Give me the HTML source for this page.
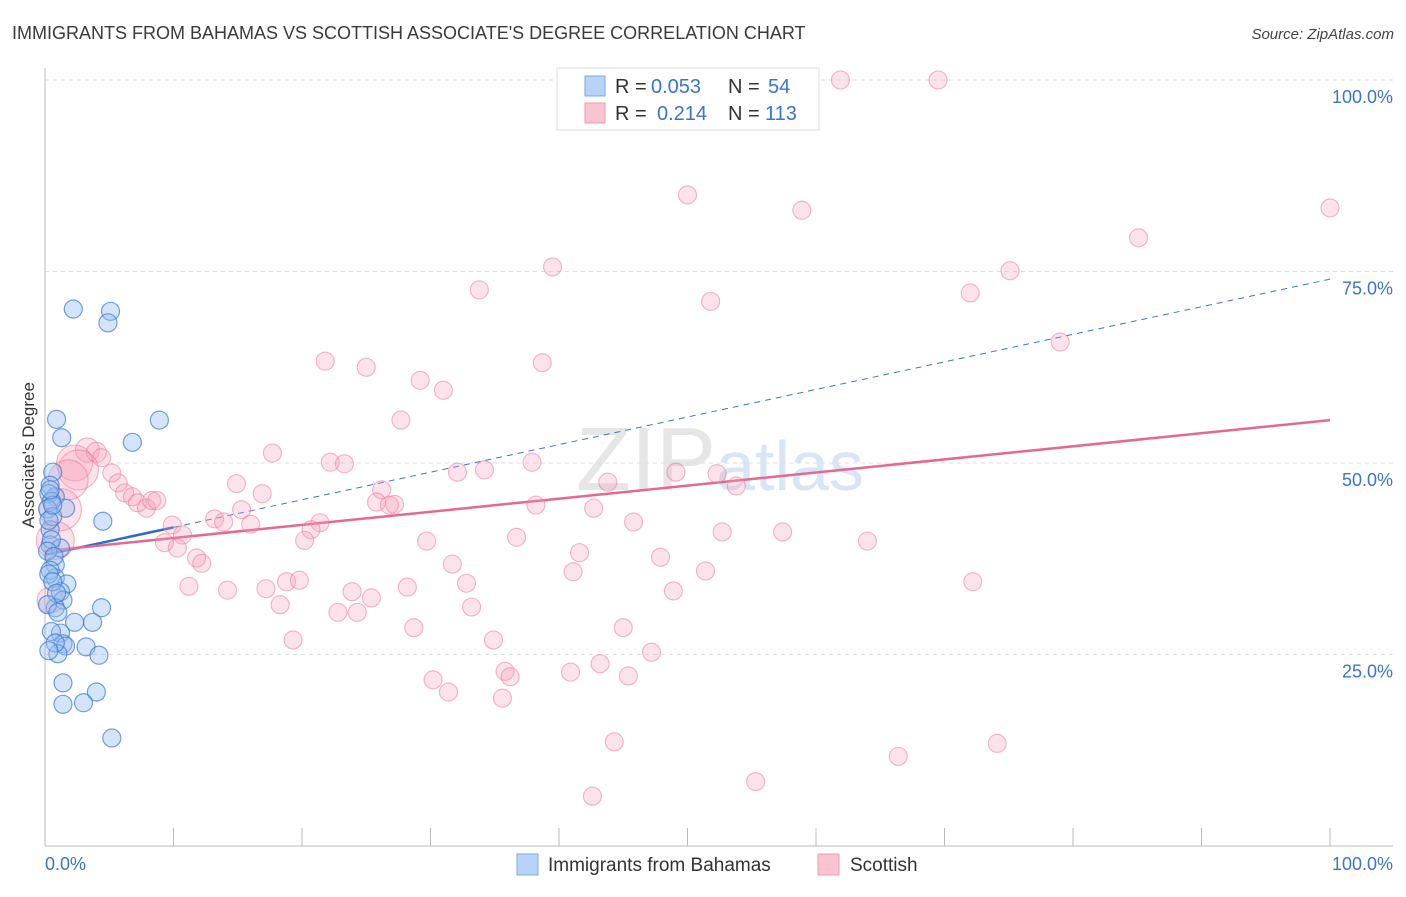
<!DOCTYPE html>
<html><head><meta charset="utf-8"><style>
body{margin:0;background:#fff;font-family:"Liberation Sans",sans-serif;}
svg text{font-family:"Liberation Sans",sans-serif;}
</style></head><body>
<svg id="chart" width="1406" height="892" xmlns="http://www.w3.org/2000/svg">
<text x="12" y="39" font-size="18" fill="#3a3a3a">IMMIGRANTS FROM BAHAMAS VS SCOTTISH ASSOCIATE'S DEGREE CORRELATION CHART</text>
<text x="1394" y="39" font-size="15" fill="#444" text-anchor="end" font-style="italic">Source: ZipAtlas.com</text>
<text x="720" y="490" font-size="90" fill="#e6e6e6" text-anchor="middle" font-family="Liberation Serif">ZIP<tspan fill="#d8e5f4" font-family="Liberation Sans" font-size="70">atlas</tspan></text>
<g id="grid"></g>
<g id="axes"></g>
<g id="lines"></g>
<g id="pts"></g>
<text transform="translate(34,455) rotate(-90)" font-size="17" fill="#333" text-anchor="middle">Associate's Degree</text>
<g>
<rect x="557" y="68" width="262" height="62" fill="#fff" stroke="#ddd"/>
<rect x="585" y="76" width="20" height="20" fill="#b8d3f5" stroke="#7aa8e6"/>
<rect x="585" y="103" width="20" height="20" fill="#f9c3d2" stroke="#ee9ab2"/>
<text x="615" y="93" font-size="20" fill="#333">R =</text>
<text x="651" y="93" font-size="20" fill="#3a74d0">0.053</text>
<text x="728" y="93" font-size="20" fill="#333">N =</text>
<text x="768" y="93" font-size="20" fill="#3a74d0">54</text>
<text x="615" y="120" font-size="20" fill="#333">R =</text>
<text x="657" y="120" font-size="20" fill="#3a74d0">0.214</text>
<text x="728" y="120" font-size="20" fill="#333">N =</text>
<text x="765" y="120" font-size="20" fill="#3a74d0">113</text>
</g>
<g>
<rect x="517" y="854" width="21" height="21" fill="#b8d3f5" stroke="#7aa8e6"/>
<text x="548" y="871" font-size="19" fill="#333">Immigrants from Bahamas</text>
<rect x="818" y="854" width="21" height="21" fill="#f9c3d2" stroke="#ee9ab2"/>
<text x="850" y="871" font-size="19" fill="#333">Scottish</text>
</g>
</svg>
<script>
const blueX=[2.2,5.1,4.9,0.9,8.9,1.3,6.8,0.6,0.4,0.8,1.6,4.5,0.4,0.4,1.2,0.8,0.8,1.7,1.2,1.4,0.8,4.4,2.3,3.7,1.2,1.4,1.6,3.2,1.0,4.2,1.4,4.0,1.4,3.0,5.2,0.3,0.5,0.2,0.6,0.3,0.5,0.2,0.7,0.4,0.3,0.6,0.9,0.2,1.0,0.5,0.8,0.3,0.6,0.4];
const blueY=[70.1,69.8,68.3,55.7,55.6,53.3,52.7,48.8,47.1,45.6,44.1,42.4,41.3,39.3,38.9,36.7,35.0,34.2,33.2,32.1,31.1,31.1,29.2,29.2,27.8,26.4,26.1,26.0,25.1,24.9,21.3,20.1,18.5,18.7,14.1,46,45,44,43,42.5,40,38.5,37.8,36,35.5,34.5,33,31.5,30.5,28,26.5,25.5,44.5,46.5];
const pinkX=[61.9,69.5,50.0,58.9,100,85.1,75.1,39.5,33.8,51.8,72.0,79.0,21.8,25.0,38.7,29.2,31.0,27.7,17.7,22.2,23.3,37.9,32.1,34.2,49.1,52.3,53.8,43.8,14.9,16.9,26.2,25.8,27.2,26.8,38.2,42.7,15.3,13.2,13.9,16.0,21.4,45.8,20.7,20.2,9.9,10.7,9.3,10.3,29.7,36.7,52.7,57.4,64.0,11.8,12.2,31.7,41.6,47.9,41.1,51.4,11.2,14.2,17.2,18.8,19.8,23.9,25.4,28.2,32.8,48.9,72.2,18.3,22.8,24.3,33.2,28.7,45.0,19.3,34.9,47.2,43.2,40.9,35.8,36.2,45.4,30.2,31.4,35.6,44.3,74.1,66.4,55.3,42.6,3.3,4.0,4.4,2.3,2.6,5.2,5.7,6.2,6.8,7.2,7.9,8.3,8.7,1.8,1.2,0.8,0.4];
const pinkY=[100,100,85.0,83.0,83.3,79.4,75.1,75.6,72.6,71.1,72.2,65.8,63.3,62.5,63.1,60.8,59.5,55.6,51.3,50.1,49.9,50.1,48.8,49.1,48.8,48.6,47.0,47.5,47.3,46.0,46.5,44.9,44.6,44.5,44.5,44.1,43.9,42.7,42.3,42.0,42.2,42.3,41.3,39.9,41.9,40.6,39.6,38.9,39.8,40.3,41.0,41.0,39.8,37.6,36.9,36.8,38.3,37.7,35.8,35.9,33.9,33.4,33.6,34.5,34.7,33.2,32.4,33.8,34.3,33.3,34.5,31.5,30.5,30.5,31.2,28.5,28.5,26.9,26.9,25.3,23.8,22.7,22.8,22.1,22.2,21.7,20.1,19.3,13.6,13.4,11.7,8.4,6.5,51.7,51.4,50.7,50.0,49.1,48.7,47.4,46.1,45.6,44.8,44.1,45.1,45.1,47.8,43.9,39.9,32.1];
const pinkBig=[0,0,0,0,0,0,0,0,0,0,0,0,0,0,0,0,0,0,0,0,0,0,0,0,0,0,0,0,0,0,0,0,0,0,0,0,0,0,0,0,0,0,0,0,0,0,0,0,0,0,0,0,0,0,0,0,0,0,0,0,0,0,0,0,0,0,0,0,0,0,0,0,0,0,0,0,0,0,0,0,0,0,0,0,0,0,0,0,0,0,0,0,0,3,1,0,9,11,0,0,0,0,0,0,0,0,11,12,10,4];
const blueFit=[38.0,0.36]; // intercept, slope
const pinkFit=[38.5,0.171];
const yTicks=[25,50,75,100];
const yTickLabels=["25.0%","50.0%","75.0%","100.0%"];
const NS="http://www.w3.org/2000/svg";
const X=v=>45+v*12.85, Y=v=>846-v*7.66;
function mk(t,a,p){const e=document.createElementNS(NS,t);for(const k in a)e.setAttribute(k,a[k]);p.appendChild(e);return e;}
const grid=document.getElementById('grid'),axes=document.getElementById('axes'),lines=document.getElementById('lines'),pts=document.getElementById('pts');
yTicks.forEach((t,i)=>{
 const g=mk('line',{x1:45,x2:1393,y1:Y(t),y2:Y(t),stroke:'#ddd','stroke-dasharray':'4,4'},grid);
 
 
 const l=mk('text',{x:1393,y:Y(t)+23,'font-size':18,fill:'#3a74d0','text-anchor':'end'},axes);
 l.textContent=yTickLabels[i];
 
 
});
const ya=mk('line',{x1:45,x2:45,y1:68,y2:846,stroke:'#bbb'},axes);


const xa=mk('line',{x1:45,x2:1393,y1:846,y2:846,stroke:'#bbb'},axes);


for(let i=1;i<=10;i++){const tk=mk('line',{x1:X(i*10),x2:X(i*10),y1:828,y2:846,stroke:'#bbb'},axes);
 
 }
const x0=mk('text',{x:45,y:870,'font-size':18,fill:'#3a74d0'},axes);x0.textContent='0.0%';


const x1=mk('text',{x:1393,y:870,'font-size':18,fill:'#3a74d0','text-anchor':'end'},axes);x1.textContent='100.0%';


pinkX.forEach((x,i)=>{const c=mk('circle',{cx:X(x),cy:Y(pinkY[i]),r:9+pinkBig[i],fill:'rgba(244,160,185,0.3)',stroke:'rgba(232,120,155,0.55)','stroke-width':1.1},pts);
 
 });
blueX.forEach((x,i)=>{const c=mk('circle',{cx:X(x),cy:Y(blueY[i]),r:9,fill:'rgba(150,190,240,0.4)',stroke:'rgba(60,120,210,0.7)','stroke-width':1.2},pts);
 
 });
const bd=mk('line',{x1:X(10),y1:Y(blueFit[0]+blueFit[1]*10),x2:X(100),y2:Y(blueFit[0]+blueFit[1]*100),stroke:'#3a74d0','stroke-dasharray':'6,5','stroke-width':1},lines);


const bs=mk('line',{x1:X(0),y1:Y(blueFit[0]),x2:X(10),y2:Y(blueFit[0]+blueFit[1]*10),stroke:'#2a6bd0','stroke-width':2.5},lines);


const ps=mk('line',{x1:X(0),y1:Y(pinkFit[0]),x2:X(100),y2:Y(pinkFit[0]+pinkFit[1]*100),stroke:'#e5688f','stroke-width':2.5},lines);


</script>
</body></html>
